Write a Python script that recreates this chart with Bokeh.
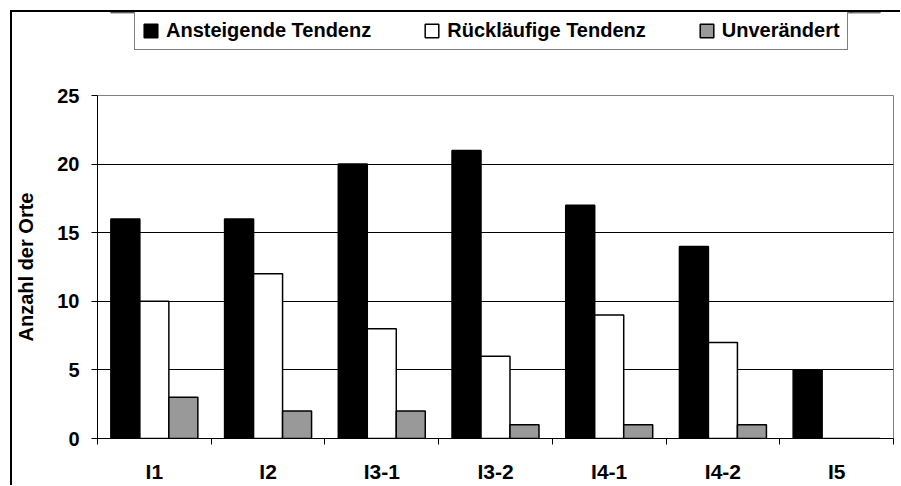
from bokeh.plotting import figure
from bokeh.models import (ColumnDataSource, FixedTicker, Legend, LegendItem, Range1d,
                          Div, Spacer)
from bokeh.layouts import column, row
from bokeh.transform import dodge
from bokeh.embed import file_html
from bokeh.resources import INLINE

# ---- data ----
categories = ["I1", "I2", "I3-1", "I3-2", "I4-1", "I4-2", "I5"]
ansteigend = [16, 16, 20, 21, 17, 14, 5]
ruecklaeufig = [10, 12, 8, 6, 9, 7, 0]
unveraendert = [3, 2, 2, 1, 1, 1, 0]
series_names = ["Ansteigende Tendenz", "Rückläufige Tendenz", "Unverändert"]
series_fields = ["a", "r", "u"]
series_colors = ["#000000", "#ffffff", "#999999"]
y_ticks = [0, 5, 10, 15, 20, 25]
y_label = "Anzahl der Orte"

FONT = "Liberation Sans"
n = len(categories)
centers = [i + 0.5 for i in range(n)]
src = ColumnDataSource(dict(x=centers, a=ansteigend, r=ruecklaeufig, u=unveraendert))

W = 888
LH = 58     # legend strip height
H = 415     # main chart height
bw = 0.255
offsets = [-bw, 0, bw]

# ---------------- main chart ----------------
p = figure(width=W, height=H, output_backend="svg", toolbar_location=None,
           x_range=Range1d(0, n), y_range=Range1d(0, 25),
           min_border_left=85, min_border_right=7, min_border_top=25,
           min_border_bottom=47)

for fld, col, off in zip(series_fields, series_colors, offsets):
    p.vbar(x=dodge("x", off, range=p.x_range), top=fld, width=bw, source=src,
           fill_color=col, line_color="#000000", line_width=1.5)

xa = p.xaxis[0]
xa.ticker = FixedTicker(ticks=centers, minor_ticks=list(range(n + 1)))
xa.major_label_overrides = {c: lab for c, lab in zip(centers, categories)}
xa.major_tick_line_color = None
xa.major_tick_out = 0
xa.major_tick_in = 0
xa.minor_tick_line_color = "#000000"
xa.minor_tick_out = 6
xa.minor_tick_in = 0
xa.major_label_standoff = 15
xa.major_label_text_font = FONT
xa.major_label_text_font_style = "bold"
xa.major_label_text_font_size = "21px"
xa.major_label_text_color = "#000000"
xa.axis_line_color = "#000000"

ya = p.yaxis[0]
ya.ticker = FixedTicker(ticks=y_ticks, minor_ticks=[])
ya.major_tick_out = 6
ya.major_tick_in = 0
ya.major_tick_line_color = "#000000"
ya.major_label_standoff = 12
ya.major_label_text_font = FONT
ya.major_label_text_font_style = "bold"
ya.major_label_text_font_size = "20px"
ya.major_label_text_color = "#000000"
ya.axis_line_color = "#000000"
ya.axis_label = y_label
ya.axis_label_text_font = FONT
ya.axis_label_text_font_style = "bold"
ya.axis_label_text_font_size = "20px"
ya.axis_label_text_color = "#000000"
ya.axis_label_standoff = 17

p.xgrid.grid_line_color = None
p.ygrid.grid_line_color = "#000000"
p.ygrid.grid_line_width = 1
p.outline_line_color = "#808080"
p.outline_line_width = 1
p.background_fill_color = "#ffffff"
p.border_fill_color = "#ffffff"

# ---------------- legend strip ----------------
# same series drawn into a y-window they never reach, so only the legend shows
lf = figure(width=W, height=LH, output_backend="svg", toolbar_location=None,
            x_range=p.x_range, y_range=Range1d(-2, -1),
            x_axis_location=None, y_axis_location=None, min_border=0)
lf.xgrid.grid_line_color = None
lf.ygrid.grid_line_color = None
lf.outline_line_color = None
lf.background_fill_alpha = 0
lf.border_fill_alpha = 0
items = []
for name, fld, col, off in zip(series_names, series_fields, series_colors, offsets):
    rr = lf.vbar(x=dodge("x", off, range=lf.x_range), top=fld, width=bw, source=src,
                 fill_color=col, line_color="#000000", line_width=1.5)
    items.append(LegendItem(label=name, renderers=[rr]))
legend = Legend(items=items, orientation="horizontal", location=(37, 20),
                padding=7, spacing=52, margin=0,
                glyph_width=17, glyph_height=17, label_standoff=7,
                label_text_font=FONT, label_text_font_style="bold",
                label_text_font_size="20px", label_text_color="#000000",
                border_line_color="#000000", border_line_width=1,
                background_fill_color="#ffffff", background_fill_alpha=1.0)
lf.add_layout(legend, "center")

# ---- outer chart border (left and top edges of the chart area) ----
vline = Div(text="", width=2, height=2 + LH + H, margin=0,
            styles={"background-color": "#000000"})
hline = Div(text="", width=W, height=2, margin=0,
            styles={"background-color": "#000000"})
page = column(Spacer(height=10, margin=0),
              row(Spacer(width=10, margin=0), vline,
                  column(hline, lf, p, spacing=0), spacing=0),
              spacing=0)

open("out.html", "w").write(file_html(page, INLINE))
